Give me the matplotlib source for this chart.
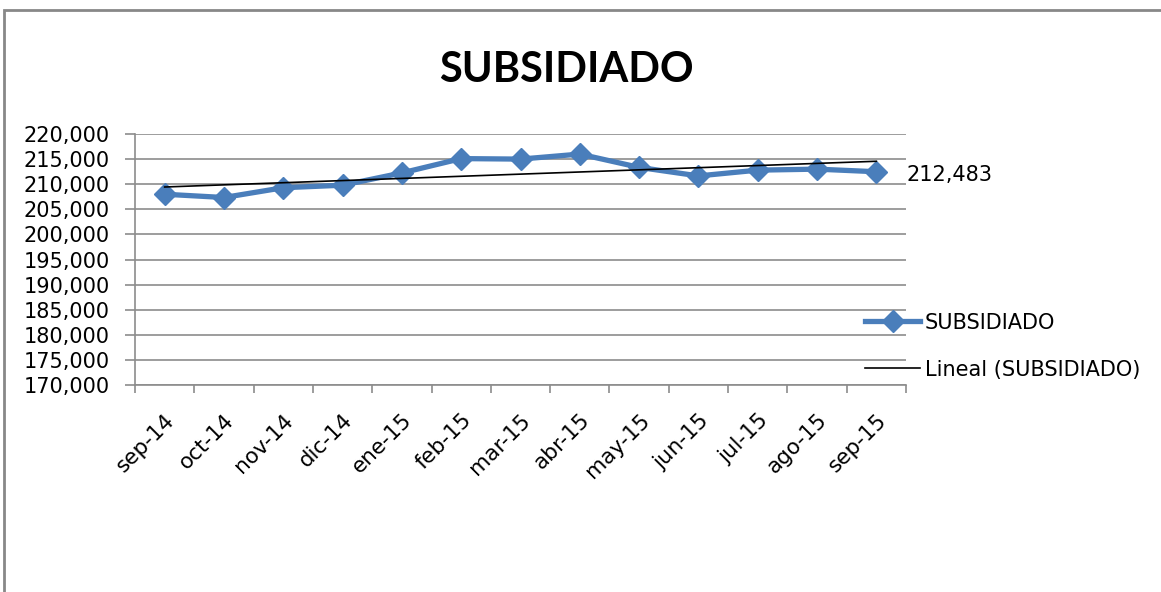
import matplotlib.pyplot as plt
import numpy as np
from matplotlib.patches import Rectangle

plt.rcParams['font.family'] = ['DejaVu Sans']

months = ["sep-14", "oct-14", "nov-14", "dic-14", "ene-15", "feb-15", "mar-15",
          "abr-15", "may-15", "jun-15", "jul-15", "ago-15", "sep-15"]
subsidiado = [208000, 207350, 209300, 209800, 212250, 215100, 215000,
              216000, 213350, 211650, 212800, 213000, 212483]

x = np.arange(len(months)) + 0.5
slope, intercept = np.polyfit(x, subsidiado, 1)
trend = slope * x + intercept

fig = plt.figure(figsize=(11.61, 5.92), dpi=100)
ax = fig.add_axes([135 / 1161, 1 - 385 / 592, (906 - 135) / 1161, (385 - 134) / 592])

blue = "#4a7ebb"
grid = "#8c8c8c"

ax.plot(x, subsidiado, color=blue, lw=3.8, marker="D", markersize=11,
        label="SUBSIDIADO", zorder=3)
ax.plot(x, trend, color="black", lw=1.2, label="Lineal (SUBSIDIADO)", zorder=4)

ax.set_xlim(0, len(months))
ax.set_ylim(170000, 220000)
ax.set_yticks(np.arange(170000, 220001, 5000))
ax.set_yticklabels([f"{v:,}" for v in range(170000, 220001, 5000)], fontsize=15)
ax.set_xticks(np.arange(len(months) + 1))
ax.set_xticklabels([])
ax.set_xticks(x, minor=True)
ax.set_xticklabels(months, minor=True, rotation=45, ha="right", va="top",
                   rotation_mode="anchor", fontsize=15.5)
ax.tick_params(axis="x", which="minor", length=0, pad=18)
ax.tick_params(axis="x", which="major", length=6, color=grid, width=1.2)
ax.tick_params(axis="y", length=7, color=grid, width=1.2, pad=11)

ax.yaxis.grid(True, color=grid, lw=1.2)
ax.set_axisbelow(True)
for side in ["top", "right"]:
    ax.spines[side].set_visible(False)
for side in ["left", "bottom"]:
    ax.spines[side].set_color(grid)
    ax.spines[side].set_linewidth(1.2)

ax.annotate(f"{subsidiado[-1]:,}", xy=(x[-1], subsidiado[-1]), xytext=(22, -2),
            textcoords="offset points", fontsize=15, va="center", ha="left",
            annotation_clip=False)

fig.text(566 / 1161, 1 - 70 / 592, "SUBSIDIADO", fontsize=30, fontweight="bold",
         family=["Lato", "DejaVu Sans"], ha="center", va="center")

ax.legend(loc="center left", bbox_to_anchor=(0.947, 0.155), frameon=False,
          fontsize=15, handlelength=2.65, labelspacing=1.3, handletextpad=0.2,
          borderpad=0, borderaxespad=0)

fig.patches.append(Rectangle((4 / 1161, -0.1), 1.2, 1.1 - 10 / 592,
                             transform=fig.transFigure, fill=False,
                             edgecolor="#888888", lw=2))

fig.savefig("out.png", dpi=100)
